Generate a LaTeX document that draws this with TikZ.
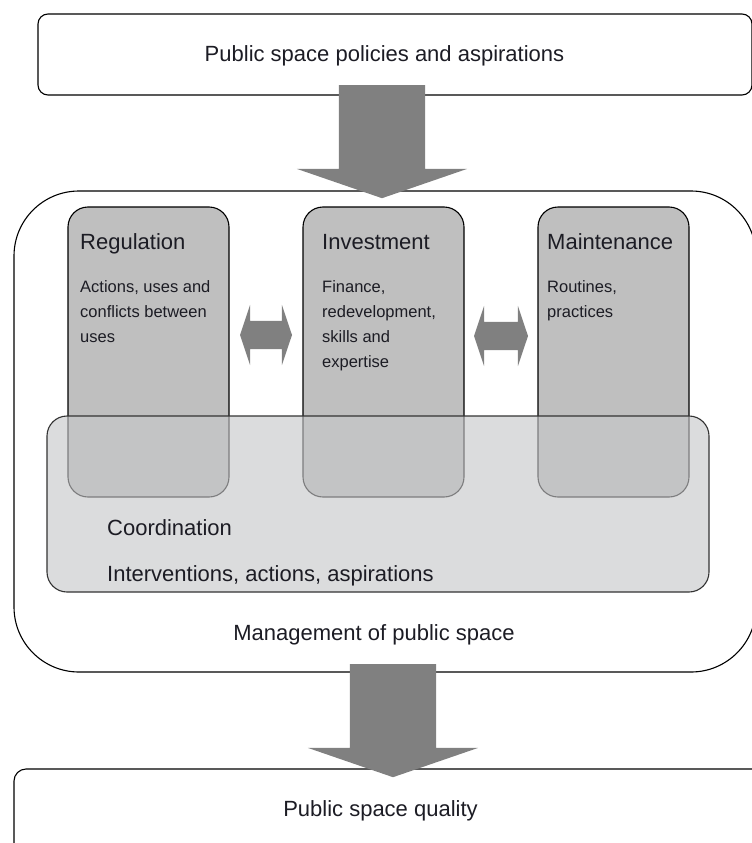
\documentclass[tikz,border=0pt]{standalone}
\usepackage{fontspec}
\setmainfont{Liberation Sans}
\usepackage{tikz}
\usetikzlibrary{positioning, shapes.arrows}
\definecolor{panelgray}{HTML}{BFBFBF}
\definecolor{coordgray}{HTML}{C6C7C9}
\definecolor{arrowgray}{HTML}{808080}
\definecolor{inkblack}{HTML}{1C1C24}

\begin{document}
\begin{tikzpicture}[x=1pt,y=-1pt,
  frame/.style={draw=black,line width=1.1pt,inner sep=0pt},
  panel/.style={frame,fill=panelgray,rounded corners=20pt},
  headtext/.style={font=\fontsize{22}{26}\selectfont,text=inkblack,inner sep=0pt},
  bodytext/.style={font=\fontsize{16.5}{25}\selectfont,text=inkblack,align=left,anchor=north west,inner sep=0pt},
  bigarrow/.style={single arrow,fill=arrowgray,inner xsep=0pt,inner ysep=43pt,minimum height=113pt,
    single arrow head extend=42pt,single arrow tip angle=142,rotate=-90,anchor=tail},
  swaparrow/.style={double arrow,fill=arrowgray,inner xsep=0pt,inner ysep=14pt,
    double arrow head extend=16pt,double arrow tip angle=143}]
\useasboundingbox (0,0) rectangle (752,843);
% outer boxes
\node[frame,rounded corners=10pt,minimum width=714pt,minimum height=81pt] (policies) at (395,54.5) {};
\node[frame,rounded corners=65pt,minimum width=742pt,minimum height=481pt] (management) at (385,431.5) {};
\node[frame,rounded corners=12pt,minimum width=776pt,minimum height=111pt] (quality) at (402,824.5) {};
% three tasks
\node[panel,minimum width=161pt,minimum height=290pt] (regulation) at (148.5,352) {};
\node[panel,minimum width=161pt,minimum height=290pt] (investment) at (383.5,352) {};
\node[panel,minimum width=151pt,minimum height=290pt] (maintenance) at (613.5,352) {};
% coordination on top
\node[draw=black!80,line width=1.1pt,fill=coordgray,fill opacity=0.63,rounded corners=20pt,
  minimum width=662pt,minimum height=176pt] (coordination) at (378,504) {};
% arrows
\node[swaparrow,minimum height=52pt] (regtoinv) at (266,335) {};
\node[swaparrow,minimum height=54pt] (invtomain) at (501,336) {};
\node[bigarrow] (inflow) at (382,85) {};
\node[bigarrow] (outflow) at (393,664) {};
% labels
\node[headtext,anchor=base] (policieslabel) at (384.5,62) {Public space policies and aspirations};
\node[headtext,anchor=base west] (reghead) at (80,249) {Regulation};
\node[headtext,anchor=base west] (invhead) at (322,249) {Investment};
\node[headtext,anchor=base west] (mainhead) at (547,249) {Maintenance};
\node[bodytext] (regbody) at (80,280) {Actions, uses and\\conflicts between\\uses};
\node[bodytext] (invbody) at (322,280) {Finance,\\redevelopment,\\skills and\\expertise};
\node[bodytext] (mainbody) at (547,280) {Routines,\\practices};
\node[headtext,anchor=base west] (coordhead) at (107,535) {Coordination};
\node[headtext,anchor=base west] (coordbody) at (107,581) {Interventions, actions, aspirations};
\node[headtext,anchor=base] (managementlabel) at (374,640) {Management of public space};
\node[headtext,anchor=base] (qualitylabel) at (380.5,816) {Public space quality};
\end{tikzpicture}
\end{document}
